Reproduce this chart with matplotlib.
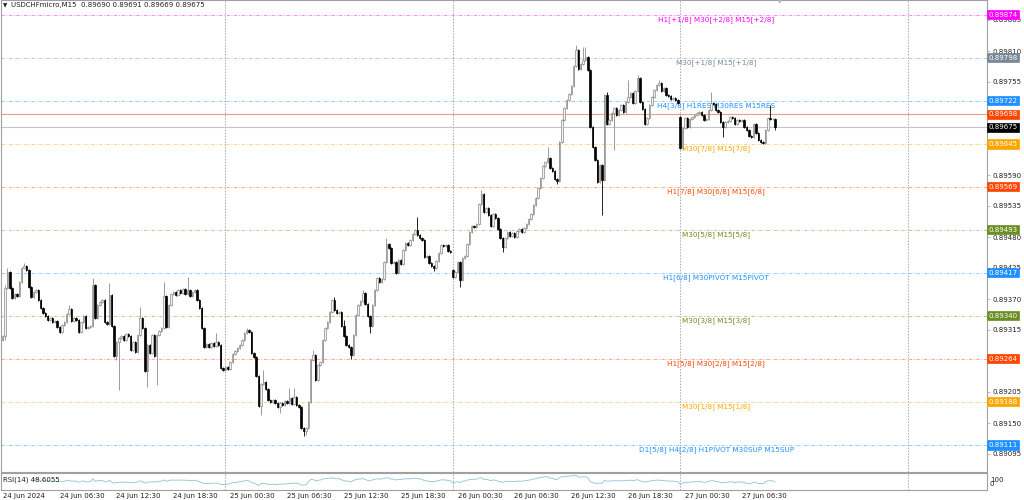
import numpy as np
import matplotlib
matplotlib.use("Agg")
import matplotlib.pyplot as plt
from matplotlib.patches import Rectangle
import matplotlib.transforms as mtransforms

plt.rcParams['font.family'] = ['DejaVu Sans']

# ---------------- data (prices in points above 0.89000) ----------------
BASE = 0.89
PT = 1e-5

closes_pts = [
    297, 304, 390, 418, 390, 372, 379, 375, 400, 425,
    429, 421, 391, 374, 382, 386, 368, 354, 345, 340,
    333, 336, 329, 331, 320, 311, 324, 329, 343, 352,
    331, 336, 333, 311, 329, 340, 319, 320, 322, 395,
    336, 359, 365, 368, 329, 326, 377, 322, 269, 294,
    301, 304, 297, 308, 304, 280, 294, 276, 306, 336,
    319, 242, 288, 274, 306, 269, 306, 313, 319, 375,
    320, 359, 379, 382, 377, 386, 381, 388, 379, 386,
    375, 382, 386, 368, 354, 319, 285, 290, 285, 292,
    287, 294, 288, 248, 244, 249, 246, 258, 272, 278,
    283, 288, 297, 310, 315, 311, 274, 267, 233, 180,
    219, 223, 210, 191, 187, 191, 186, 178, 186, 182,
    189, 186, 194, 184, 196, 182, 178, 141, 136, 141,
    187, 262, 271, 226, 253, 258, 297, 319, 329, 347,
    368, 350, 345, 347, 322, 304, 288, 285, 271, 306,
    342, 359, 366, 381, 361, 340, 322, 359, 386, 407,
    400, 406, 436, 468, 461, 434, 436, 416, 439, 432,
    457, 469, 466, 475, 485, 492, 484, 478, 475, 445,
    446, 434, 429, 425, 437, 452, 466, 464, 466, 455,
    453, 409, 418, 436, 404, 443, 446, 468, 489, 500,
    498, 503, 539, 556, 524, 531, 519, 500, 521, 514,
    494, 478, 462, 478, 489, 482, 487, 480, 491, 494,
    489, 496, 503, 512, 521, 537, 549, 567, 585, 606,
    613, 620, 602, 597, 583, 579, 649, 688, 709, 723,
    734, 748, 783, 812, 778, 787, 794, 799, 776, 675,
    640, 617, 578, 608, 581, 732, 680, 688, 700, 709,
    696, 705, 714, 702, 720, 728, 735, 718, 739, 762,
    720, 707, 680, 691, 714, 728, 741, 750, 753, 739,
    744, 732, 730, 725, 727, 723, 718, 638, 673, 691,
    675, 689, 693, 696, 700, 702, 696, 688, 689, 705,
    718, 716, 705, 702, 684, 675, 684, 686, 693, 691,
    680, 688, 686, 688, 675, 670, 659, 657, 680, 665,
    652, 649, 647, 670, 691, 689, 690, 675,
]
first_open_pts = 271
gap_open_pts = {192: 421, 288: 693}          # bar number -> open
wick_high_pts = {1: 306, 3: 395, 4: 425, 11: 434, 30: 359, 40: 407, 47: 398,
                 60: 356, 70: 400, 80: 409, 92: 310, 105: 319, 112: 244,
                 123: 212, 125: 212, 133: 280, 142: 374, 146: 333, 154: 386,
                 164: 478, 177: 516, 204: 564, 232: 640, 244: 821, 247: 817,
                 248: 817, 257: 737, 266: 759, 270: 767, 279: 759, 301: 737,
                 326: 714, 328: 691}
wick_low_pts = {1: 265, 3: 297, 50: 262, 51: 209, 63: 214, 67: 218, 111: 164,
                119: 168, 129: 127, 130: 129, 149: 264, 157: 310, 184: 420,
                195: 391, 213: 453, 236: 574, 255: 519, 260: 634, 306: 657,
                328: 669}
DEFAULT_WICK = 2

level_prices = [0.89874, 0.89798, 0.89722, 0.89698, 0.89675, 0.89645, 0.89569,
                0.89493, 0.89417, 0.89340, 0.89264, 0.89188, 0.89111]
level_colors = ['#ff00ff', '#778899', '#1e90ff', '#ff4500', '#000000', '#ffa500',
                '#ff4500', '#6b8e23', '#1e90ff', '#6b8e23', '#ff4500', '#ffa500',
                '#1e90ff']
level_texts = ['H1[+1/8] M30[+2/8] M15[+2/8]', 'M30[+1/8] M15[+1/8]',
               'H4[3/8] H1RES M30RES M15RES', '', '', 'M30[7/8] M15[7/8]',
               'H1[7/8] M30[6/8] M15[6/8]', 'M30[5/8] M15[5/8]',
               'H1[6/8] M30PIVOT M15PIVOT', 'M30[3/8] M15[3/8]',
               'H1[5/8] M30[2/8] M15[2/8]', 'M30[1/8] M15[1/8]',
               'D1[5/8] H4[2/8] H1PIVOT M30SUP M15SUP']

# price scale labels visible on the right axis (those fully hidden behind
# the coloured level boxes are omitted)
price_ticks = [0.89095, 0.89150, 0.89205, 0.89315, 0.89370, 0.89425, 0.89480,
               0.89535, 0.89590, 0.89755, 0.89810, 0.89865]
time_tick_bars = [1.9, 26, 50, 74, 98, 122, 146, 170, 194, 218, 242, 266, 290, 314]
time_tick_labels = ['24 Jun 2024', '24 Jun 06:30', '24 Jun 12:30', '24 Jun 18:30',
                    '25 Jun 00:30', '25 Jun 06:30', '25 Jun 12:30', '25 Jun 18:30',
                    '26 Jun 00:30', '26 Jun 06:30', '26 Jun 12:30', '26 Jun 18:30',
                    '27 Jun 00:30', '27 Jun 06:30']
day_separator_bars = [96, 192, 288, 384]
header = 'USDCHFmicro,M15  0.89690 0.89691 0.89669 0.89675'
rsi_label = 'RSI(14) 48.6055'

# ---------------- build OHLC ----------------
n = len(closes_pts)
bars = np.arange(1, n + 1)
closes = np.array(closes_pts, float)
opens = np.empty(n)
opens[0] = first_open_pts
opens[1:] = closes[:-1]
for b, v in gap_open_pts.items():
    opens[b - 1] = v
highs = np.maximum(opens, closes) + DEFAULT_WICK
lows = np.minimum(opens, closes) - DEFAULT_WICK
for b, v in wick_high_pts.items():
    highs[b - 1] = max(v, highs[b - 1])
for b, v in wick_low_pts.items():
    lows[b - 1] = min(v, lows[b - 1])
O = BASE + opens * PT
C = BASE + closes * PT
H = BASE + highs * PT
L = BASE + lows * PT

# RSI(14), Wilder
period = 14
d = np.diff(C)
up = np.where(d > 0, d, 0.0)
dn = np.where(d < 0, -d, 0.0)
rsi = np.full(n, np.nan)
au = up[:period].mean(); ad = dn[:period].mean()
rsi[period] = 100 - 100 / (1 + au / ad) if ad > 0 else 100
for k in range(period + 1, n):
    au = (au * (period - 1) + up[k - 1]) / period
    ad = (ad * (period - 1) + dn[k - 1]) / period
    rsi[k] = 100 - 100 / (1 + au / ad) if ad > 0 else 100

# ---------------- figure ----------------
W, Hpx = 1024, 500
fig = plt.figure(figsize=(W / 100, Hpx / 100), dpi=100)
fig.patch.set_facecolor('white')

def fr(x0, y0, x1, y1):
    return [x0 / W, 1 - y1 / Hpx, (x1 - x0) / W, (y1 - y0) / Hpx]

ax = fig.add_axes(fr(0.5, 0, 987, 472))
axr = fig.add_axes(fr(0.5, 473, 987, 490))

px_per_bar = 2.37
x0_bar = (0 + 2.5) / px_per_bar
x1_bar = (987 + 2.5) / px_per_bar
ytop = 0.89810 + 51 * 55 / 31 * PT
ybot = 0.89810 - (472 - 51) * 55 / 31 * PT

for a in (ax, axr):
    a.set_xlim(x0_bar, x1_bar)
    for s in a.spines.values():
        s.set_color('#a0a0a0')
        s.set_linewidth(0.8)
    a.set_facecolor('white')
ax.set_ylim(ybot, ytop)
axr.set_ylim(0, 100)

# day separators
for b in day_separator_bars:
    for a in (ax, axr):
        a.axvline(b, color='#a8a8a8', lw=0.7, ls=(0, (1.5, 1.5)), zorder=1)

# level lines
blend = mtransforms.blended_transform_factory(ax.transAxes, ax.transData)
for p, col, txt in zip(level_prices, level_colors, level_texts):
    if p == 0.89675:
        ax.axhline(p, color='#c4c4c4', lw=0.8, zorder=1)
    elif p == 0.89698:
        ax.axhline(p, color='#e8a080', lw=0.8, zorder=1)
    else:
        ax.axhline(p, color=col, lw=0.6, alpha=0.55, ls=(0, (4, 2, 1, 2)), zorder=1)
    if txt:
        ax.annotate(txt, xy=(303.2, p), xytext=(0, -1.2), textcoords='offset points',
                    ha='center', va='top', fontsize=5.2, color=col, zorder=2)
    ax.text(1.0015, p, f'{p:.5f}', transform=blend, ha='left', va='center',
            fontsize=5, color='white', zorder=6, clip_on=False,
            bbox=dict(boxstyle='square,pad=0.22', fc=col, ec=col, lw=0.5))

# candles
bw = 0.62
for i in range(n):
    x = bars[i]
    bull = C[i] >= O[i]
    wc = '#8a8a8a' if bull else '#000000'
    ax.plot([x, x], [L[i], H[i]], color=wc, lw=0.6, zorder=3, solid_capstyle='butt')
    lo = min(O[i], C[i]); hi = max(O[i], C[i])
    hgt = max(hi - lo, 0.2 * PT)
    if bull:
        r = Rectangle((x - bw / 2, lo), bw, hgt, fc='#f2f2f2', ec='#8a8a8a', lw=0.5, zorder=4)
    else:
        r = Rectangle((x - bw / 2, lo), bw, hgt, fc='#000000', ec='#000000', lw=0.5, zorder=4)
    ax.add_patch(r)

# price axis
ax.yaxis.tick_right()
ax.set_yticks(price_ticks)
ax.set_yticklabels([f'{v:.5f}' for v in price_ticks])
ax.tick_params(axis='y', length=2, width=0.5, color='#a0a0a0', pad=2, labelsize=5,
               labelcolor='#202020')
ax.set_xticks([])

# RSI panel
axr.plot(bars, rsi, color='#8cc4d4', lw=0.6, zorder=3)
axr.set_yticks([])
axr.set_xticks(time_tick_bars)
axr.set_xticklabels(time_tick_labels)
for lab in axr.get_xticklabels():
    lab.set_ha('left')
axr.tick_params(axis='x', length=0, pad=2, labelsize=5, labelcolor='#202020')
axr.text(0.0025, 0.62, rsi_label, transform=axr.transAxes, fontsize=5, va='center',
         ha='left', color='#202020')
fig.text(990 / W, 1 - 479.5 / Hpx, '100', fontsize=5, va='center', ha='left', color='#202020')
fig.text(990 / W, 1 - 484.5 / Hpx, '0', fontsize=5, va='center', ha='left', color='#202020')

# header
fig.text(3 / W, 1 - 5.5 / Hpx, '\u25bc', fontsize=4, va='center', ha='left', color='#202020')
fig.text(11 / W, 1 - 5.5 / Hpx, header, fontsize=5, va='center', ha='left', color='#202020')
# chart shift marker
fig.text(780 / W, 1 - 1.5 / Hpx, '\u25bc', fontsize=5, va='center', ha='center', color='#b0b0b0')

fig.savefig('out.png', dpi=100, facecolor='white')
